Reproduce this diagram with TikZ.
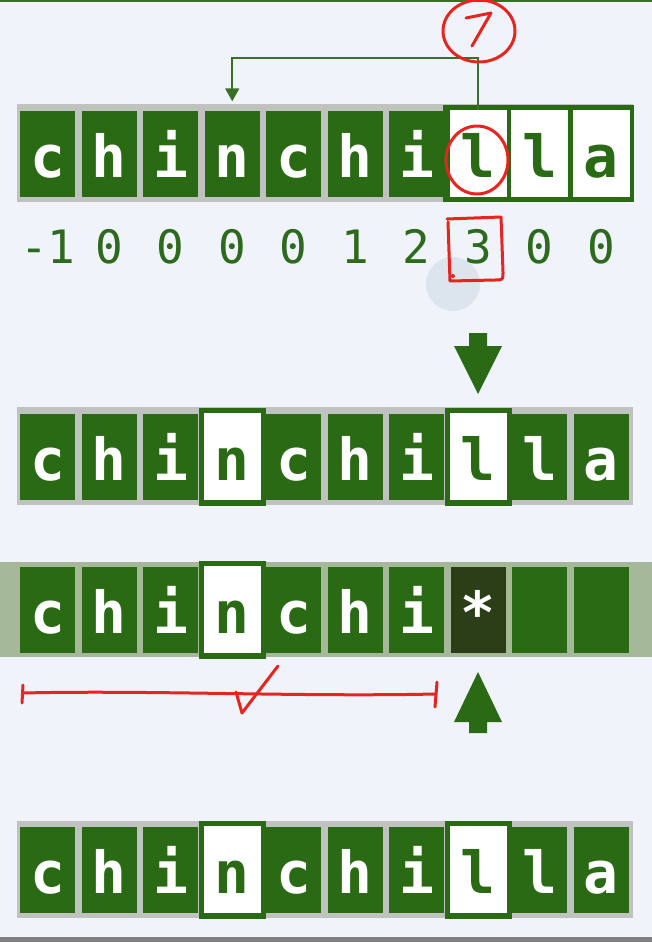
\documentclass[tikz,border=0pt]{standalone}
\usepackage{fontspec}
\usepackage{tikz}
\usetikzlibrary{arrows.meta, positioning, calc}
\usepackage{xcolor}
\newfontfamily\monofont{DejaVu Sans Mono}
\definecolor{pagebg}{RGB}{240,244,250}
\definecolor{cellgreen}{RGB}{42,106,20}
\definecolor{darkcell}{RGB}{44,62,24}
\definecolor{bandgray}{RGB}{192,194,192}
\definecolor{bandsage}{RGB}{166,184,154}
\definecolor{numgreen}{RGB}{46,106,30}
\definecolor{linegreen}{RGB}{58,112,38}
\definecolor{penred}{RGB}{232,36,30}
\definecolor{cursorblue}{RGB}{212,222,234}
\definecolor{barcolor}{RGB}{128,128,128}

\tikzset{
  cell/.style={fill=cellgreen, minimum width=55pt, minimum height=86pt, inner sep=0pt},
  opencell/.style={cell, fill=white, minimum width=57pt, minimum height=87pt},
  hicell/.style={cell, fill=white, draw=cellgreen, line width=5.5pt, minimum width=62pt, minimum height=92.5pt},
  starcell/.style={cell, fill=darkcell},
  letter/.style={text=white, font=\monofont\bfseries\fontsize{58}{58}\selectfont, text height=48pt, text depth=0pt, inner sep=0pt},
  hiletter/.style={letter, text=cellgreen},
  digit/.style={text=numgreen, font=\monofont\fontsize{46}{46}\selectfont, anchor=base},
  pen/.style={penred, line width=3pt, line cap=round, line join=round},
  conn/.style={linegreen, line width=1.8pt, -{Triangle[length=13pt,width=14pt]}},
}

\begin{document}
\begin{tikzpicture}[x=1pt, y=-1pt]
% page
\fill[pagebg] (0,0) rectangle (652,942);
\useasboundingbox (0,0) rectangle (652,942);
\draw[linegreen, line width=2pt] (0,1) -- (652,1);
\fill[barcolor] (0,937) rectangle (652,942);

% bands behind the cells
\fill[bandgray] (17,104) rectangle (633,202);
\fill[bandgray] (17,407) rectangle (633,505);
\fill[bandsage] (0,562) rectangle (652,657);
\fill[bandgray] (17,821) rectangle (633,918);
\fill[cellgreen] (443,105) rectangle (634,202);

% row 1: scanned prefix and the open suffix
\foreach \l/\s/\t [count=\i from 0] in {c/cell/letter, h/cell/letter, i/cell/letter, n/cell/letter, c/cell/letter, h/cell/letter, i/cell/letter, l/opencell/hiletter, l/opencell/hiletter, a/opencell/hiletter} {
    \node[\s] (r1c\i) at ({47.75+61.5*\i},153.5) {};
    \node[\t] at (r1c\i) {\l};
}

% values under row 1
\foreach \v [count=\i from 0] in {-1,0,0,0,0,1,2,3,0,0} {
    \node[digit] (num\i) at ({47.75+61.5*\i},263) {\v};
}

% jump back from the match
\draw[conn] (r1c7.north) -- ++(0,-52) -| ([yshift=9pt]r1c3.north);

% row 2
\foreach \l/\s/\t [count=\i from 0] in {c/cell/letter, h/cell/letter, i/cell/letter, n/hicell/hiletter, c/cell/letter, h/cell/letter, i/cell/letter, l/hicell/hiletter, l/cell/letter, a/cell/letter} {
    \node[\s] (r2c\i) at ({47.75+61.5*\i},456.5) {};
    \node[\t] at (r2c\i) {\l};
}

% row 3
\foreach \l/\s/\t [count=\i from 0] in {c/cell/letter, h/cell/letter, i/cell/letter, n/hicell/hiletter, c/cell/letter, h/cell/letter, i/cell/letter, */starcell/letter, /cell/letter, /cell/letter} {
    \node[\s] (r3c\i) at ({47.75+61.5*\i},609.5) {};
    \node[\t] at (r3c\i) {\l};
}

% row 4
\foreach \l/\s/\t [count=\i from 0] in {c/cell/letter, h/cell/letter, i/cell/letter, n/hicell/hiletter, c/cell/letter, h/cell/letter, i/cell/letter, l/hicell/hiletter, l/cell/letter, a/cell/letter} {
    \node[\s] (r4c\i) at ({47.75+61.5*\i},869.5) {};
    \node[\t] at (r4c\i) {\l};
}

% block pointers
\fill[cellgreen] (469,333) -- (487,333) -- (487,346) -- (502,346) -- (478,394) -- (454,346) -- (469,346) -- cycle;
\fill[cellgreen] (478,672) -- (502,722) -- (487,722) -- (487,733) -- (469,733) -- (469,722) -- (454,722) -- cycle;

% cursor
\fill[cursorblue, opacity=0.7] (453,284) circle (27);

% pen marks
\draw[pen] (479,31) ellipse (36 and 31);
\draw[pen] (466,18) -- (491,13) -- (472,46);
\draw[pen] (477,160) ellipse (31 and 34);
\draw[pen] (447,219) -- (501,217) -- (503,272) .. controls (503,280) .. (495,280) -- (450,281) -- (448,222);
\fill[penred] (453,276) circle (2);
\draw[pen] (23,685) -- (22,703);
\draw[pen] (23,693) .. controls (150,690) and (300,697) .. (435,694);
\draw[pen] (437,682) -- (435,707);
\draw[pen] (236,692) -- (242,713) -- (278,666);
\end{tikzpicture}
\end{document}
